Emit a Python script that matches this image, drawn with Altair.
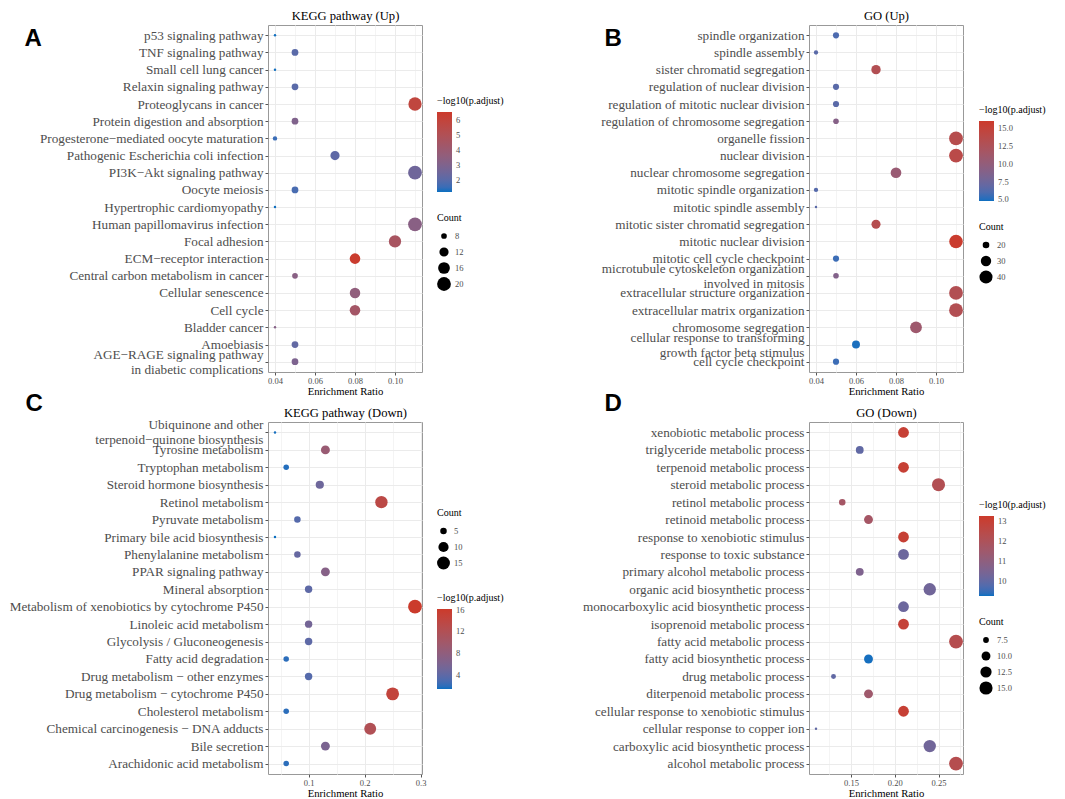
import altair as alt
import pandas as pd

# ---------------- Panel A: KEGG pathway (Up) ----------------
terms_a = ["p53 signaling pathway", "TNF signaling pathway", "Small cell lung cancer",
           "Relaxin signaling pathway", "Proteoglycans in cancer", "Protein digestion and absorption",
           "Progesterone\u2212mediated oocyte maturation", "Pathogenic Escherichia coli infection",
           "PI3K\u2212Akt signaling pathway", "Oocyte meiosis", "Hypertrophic cardiomyopathy",
           "Human papillomavirus infection", "Focal adhesion", "ECM\u2212receptor interaction",
           "Central carbon metabolism in cancer", "Cellular senescence", "Cell cycle",
           "Bladder cancer", "Amoebiasis", "AGE\u2212RAGE signaling pathway|in diabetic complications"]
ratio_a = [0.04, 0.05, 0.04, 0.05, 0.11, 0.05, 0.04, 0.07, 0.11, 0.05,
           0.04, 0.11, 0.10, 0.08, 0.05, 0.08, 0.08, 0.04, 0.05, 0.05]
count_a = [6, 9, 6, 9, 19, 9, 7, 12, 20, 9, 6, 20, 17, 14, 8, 14, 14, 6, 9, 9]
padj_a = [1.2, 2.0, 1.2, 2.0, 5.8, 3.0, 1.5, 2.1, 2.5, 1.7,
          1.2, 3.3, 4.6, 6.4, 3.3, 3.6, 4.4, 3.2, 2.2, 2.9]

# ---------------- Panel B: GO (Up) ----------------
terms_b = ["spindle organization", "spindle assembly", "sister chromatid segregation",
           "regulation of nuclear division", "regulation of mitotic nuclear division",
           "regulation of chromosome segregation", "organelle fission", "nuclear division",
           "nuclear chromosome segregation", "mitotic spindle organization", "mitotic spindle assembly",
           "mitotic sister chromatid segregation", "mitotic nuclear division",
           "mitotic cell cycle checkpoint", "microtubule cytoskeleton organization|involved in mitosis",
           "extracellular structure organization", "extracellular matrix organization",
           "chromosome segregation", "cellular response to transforming|growth factor beta stimulus",
           "cell cycle checkpoint"]
ratio_b = [0.05, 0.04, 0.07, 0.05, 0.05, 0.05, 0.11, 0.11, 0.08, 0.04,
           0.04, 0.07, 0.11, 0.05, 0.05, 0.11, 0.11, 0.09, 0.06, 0.05]
count_b = [19, 16, 27, 19, 19, 18, 43, 43, 31, 16, 14, 26, 42, 19, 18, 43, 43, 35, 23, 19]
padj_b = [6.0, 6.5, 13.0, 6.5, 6.5, 9.0, 13.4, 13.8, 10.5, 6.3,
          6.5, 13.3, 15.8, 5.5, 8.8, 13.0, 13.0, 11.0, 4.9, 5.5]

# ---------------- Panel C: KEGG pathway (Down) ----------------
terms_c = ["Ubiquinone and other|terpenoid\u2212quinone biosynthesis", "Tyrosine metabolism",
           "Tryptophan metabolism", "Steroid hormone biosynthesis", "Retinol metabolism",
           "Pyruvate metabolism", "Primary bile acid biosynthesis", "Phenylalanine metabolism",
           "PPAR signaling pathway", "Mineral absorption", "Metabolism of xenobiotics by cytochrome P450",
           "Linoleic acid metabolism", "Glycolysis / Gluconeogenesis", "Fatty acid degradation",
           "Drug metabolism \u2212 other enzymes", "Drug metabolism \u2212 cytochrome P450",
           "Cholesterol metabolism", "Chemical carcinogenesis \u2212 DNA adducts", "Bile secretion",
           "Arachidonic acid metabolism"]
ratio_c = [0.04, 0.13, 0.06, 0.12, 0.23, 0.08, 0.04, 0.08, 0.13, 0.10,
           0.29, 0.10, 0.10, 0.06, 0.10, 0.25, 0.06, 0.21, 0.13, 0.06]
count_c = [2, 8, 4, 7, 14, 5, 2, 5, 8, 6, 17, 6, 6, 4, 6, 15, 4, 13, 8, 4]
padj_c = [1.6, 9.0, 1.8, 5.0, 13.5, 3.5, 1.5, 4.5, 7.0, 4.0,
          16.0, 5.5, 4.0, 2.0, 3.5, 14.5, 2.0, 12.0, 6.0, 2.0]

# ---------------- Panel D: GO (Down) ----------------
terms_d = ["xenobiotic metabolic process", "triglyceride metabolic process", "terpenoid metabolic process",
           "steroid metabolic process", "retinol metabolic process", "retinoid metabolic process",
           "response to xenobiotic stimulus", "response to toxic substance",
           "primary alcohol metabolic process", "organic acid biosynthetic process",
           "monocarboxylic acid biosynthetic process", "isoprenoid metabolic process",
           "fatty acid metabolic process", "fatty acid biosynthetic process", "drug metabolic process",
           "diterpenoid metabolic process", "cellular response to xenobiotic stimulus",
           "cellular response to copper ion", "carboxylic acid biosynthetic process",
           "alcohol metabolic process"]
ratio_d = [0.21, 0.16, 0.21, 0.25, 0.14, 0.17, 0.21, 0.21, 0.16, 0.24,
           0.21, 0.21, 0.27, 0.17, 0.13, 0.17, 0.21, 0.11, 0.24, 0.27]
count_d = [12, 9, 12, 15, 8, 10, 12, 12, 9, 14, 12, 12, 16, 10, 7, 10, 12, 6, 14, 16]
padj_d = [13.0, 10.0, 13.0, 12.2, 11.7, 11.7, 13.0, 10.2, 10.6, 10.3,
          10.2, 12.9, 12.3, 9.3, 10.0, 11.5, 13.0, 10.0, 10.3, 12.3]

# tick values / legend values
xmajor_ab = [0.04, 0.06, 0.08, 0.10]
xminor_ab = [0.05, 0.07, 0.09, 0.11]
xmajor_c = [0.1, 0.2, 0.3]
xminor_c = [0.05, 0.15, 0.25]
xmajor_d = [0.15, 0.20, 0.25]
xminor_d = [0.125, 0.175, 0.225, 0.275]

BLUE = "#0B6FC0"
RED = "#CC3A2B"
SERIF = "Liberation Serif"
GREY = "#4D4D4D"
W = 154


def panel(title, letter, lx, ly, terms, ratios, counts, padj,
          xdom, xmajor, xminor, xfmt, cdom, cvals, cfmt, sdom, svals, sfmt,
          cpos, spos, h):
    df = pd.DataFrame({"term": terms, "ratio": ratios, "count": counts, "padj": padj})
    base = alt.Chart(df)
    xscale = alt.Scale(domain=xdom, nice=False, zero=False)
    # top axis: minor grid lines + panel title
    minor = base.mark_circle(opacity=0).encode(
        x=alt.X("ratio:Q", scale=xscale,
                axis=alt.Axis(orient="top", values=xminor, labels=False, ticks=False,
                              domain=False, grid=True, gridColor="#F4F4F4", gridWidth=1,
                              title=title, titleFont=SERIF, titleFontSize=12.6,
                              titleFontWeight="normal", titleColor="black",
                              titleAlign="center", titleBaseline="alphabetic",
                              titleX=W / 2, titleY=-6))
    )
    main = base.mark_circle(opacity=1, strokeWidth=0).encode(
        x=alt.X("ratio:Q", scale=xscale,
                axis=alt.Axis(orient="bottom", values=xmajor, format=xfmt,
                              title="Enrichment Ratio", grid=True, gridColor="#EBEBEB",
                              domain=False, tickSize=3, tickColor="#555555",
                              labelFontSize=8.5, labelColor=GREY, labelPadding=1,
                              titleFontSize=10.7, titleFontWeight="normal",
                              titleColor="black", titlePadding=2, labelFont=SERIF,
                              titleFont=SERIF)),
        y=alt.Y("term:N", sort=terms, scale=alt.Scale(type="point", padding=0.6),
                axis=alt.Axis(title=letter, titleAngle=0, titleAlign="left",
                              titleBaseline="alphabetic", titleX=lx, titleY=ly,
                              titleFont="Liberation Sans", titleFontSize=24,
                              titleFontWeight="bold", titleColor="black",
                              labelExpr="split(datum.label, '|')", labelLineHeight=15,
                              labelOffset={"condition": {"test": "indexof(datum.value, '|') >= 0",
                                                         "value": -7.5},
                                           "value": 0},
                              labelFontSize=13.2, labelColor=GREY, labelFont=SERIF,
                              labelLimit=400, labelPadding=2, tickSize=3,
                              tickColor="#555555", domain=False, grid=True,
                              gridColor="#EBEBEB")),
        color=alt.Color("padj:Q",
                        scale=alt.Scale(domain=cdom, range=[BLUE, RED], interpolate="lab"),
                        legend=alt.Legend(title="\u2212log10(p.adjust)", orient="none",
                                          legendX=cpos[0], legendY=cpos[1],
                                          direction="vertical", gradientLength=80,
                                          gradientThickness=15, values=cvals, format=cfmt,
                                          labelFontSize=8.5, labelColor=GREY, labelOffset=4,
                                          labelFont=SERIF, titleFont=SERIF,
                                          titleFontSize=10, titleFontWeight="normal",
                                          titleColor="black", titlePadding=6, padding=0,
                                          gradientStrokeWidth=0, labelOverlap=False)),
        size=alt.Size("count:Q",
                      scale=alt.Scale(domain=sdom, range=[6, 190], zero=False),
                      legend=alt.Legend(title="Count", orient="none",
                                        legendX=spos[0], legendY=spos[1],
                                        values=svals, format=sfmt,
                                        symbolFillColor="black", symbolStrokeWidth=0,
                                        symbolType="circle", symbolOpacity=1,
                                        labelFontSize=8.5, labelColor=GREY, labelFont=SERIF,
                                        titleFont=SERIF, titleFontSize=10,
                                        titleFontWeight="normal", titleColor="black",
                                        titlePadding=5, padding=0, rowPadding=0,
                                        clipHeight=16)),
    )
    return alt.layer(minor, main).resolve_axis(x="independent").properties(width=W, height=h)


pA = panel("KEGG pathway (Up)", "A", -244, 20, terms_a, ratio_a, count_a, padj_a,
           [0.0365, 0.1135], xmajor_ab, xminor_ab, ".2f",
           [1.18, 6.51], [2, 3, 4, 5, 6], "d", [6, 20], [8, 12, 16, 20], "d",
           (169, 71), (169, 188), 347)
pB = panel("GO (Up)", "B", -205, 20, terms_b, ratio_b, count_b, padj_b,
           [0.0365, 0.1135], xmajor_ab, xminor_ab, ".2f",
           [4.77, 16.0], [5, 7.5, 10, 12.5, 15], ".1f", [14, 43], [20, 30, 40], "d",
           (170, 80), (170, 197), 347)
pC = panel("KEGG pathway (Down)", "C", -243, -12, terms_c, ratio_c, count_c, padj_c,
           [0.0275, 0.3025], xmajor_c, xminor_c, ".1f",
           [1.5, 16.1], [4, 8, 12, 16], "d", [2, 17], [5, 10, 15], "d",
           (169, 171), (169, 86), 352)
pD = panel("GO (Down)", "D", -205, -12, terms_d, ratio_d, count_d, padj_d,
           [0.102, 0.278], xmajor_d, xminor_d, ".2f",
           [9.27, 13.27], [10, 11, 12, 13], "d", [6, 16], [7.5, 10, 12.5, 15], ".1f",
           (170, 78), (170, 195), 352)

chart = alt.concat(pA, pB, pC, pD, columns=2,
                   spacing={"row": 50, "column": 387}, bounds="flush",
                   padding={"left": 0, "top": 0, "right": 0, "bottom": 0}).resolve_scale(
    color="independent", size="independent", x="independent", y="independent"
).configure(font=SERIF).configure_view(stroke="#999999", strokeWidth=1)

chart.save("out.html", embed_options={"renderer": "svg", "actions": False})
